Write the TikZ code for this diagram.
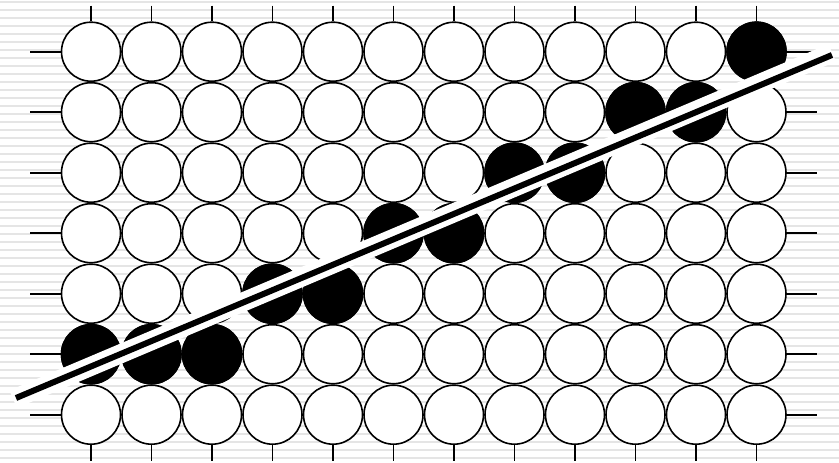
\documentclass[tikz,border=0pt]{standalone}
\usetikzlibrary{calc}
\begin{document}
\begin{tikzpicture}[x=1pt,y=-1pt,
  bead/.style={circle, draw=black, line width=1.6pt, minimum size=59pt, inner sep=0pt, fill=white},
  blackbead/.style={bead, fill=black},
  tickline/.style={draw=black, line width=1.6pt},
  stripe/.style={draw=gray!20, line width=2pt}]
\useasboundingbox (0,0) rectangle (839,463);
\foreach \y in {1.5,9.5,...,463} \draw[stripe] (0,\y) -- (839,\y);
% tick end points
\foreach \c in {1,...,12}{
  \pgfmathsetmacro{\cx}{91+60.5*(\c-1)}
  \coordinate (tt-\c) at (\cx,5.5);
  \coordinate (tb-\c) at (\cx,460.5);
}
\foreach \r in {1,...,7}{
  \pgfmathsetmacro{\cy}{51.7+60.5*(\r-1)}
  \coordinate (tl-\r) at (30,\cy);
  \coordinate (tr-\r) at (817,\cy);
}
% beads
\foreach \r in {1,...,7}{
  \foreach \c in {1,...,12}{
    \pgfmathsetmacro{\cx}{91+60.5*(\c-1)}
    \pgfmathsetmacro{\cy}{51.7+60.5*(\r-1)}
    \node[bead] (b-\r-\c) at (\cx,\cy) {};
  }
}
\foreach \c in {1,...,12}{
  \draw[tickline] (tt-\c) -- (b-1-\c.north);
  \draw[tickline] (b-7-\c.south) -- (tb-\c);
}
\foreach \r in {1,...,7}{
  \draw[tickline] (tl-\r) -- (b-\r-1.west);
  \draw[tickline] (b-\r-12.east) -- (tr-\r);
}
% black beads
\foreach \r/\c in {1/12, 2/10, 2/11, 3/8, 3/9, 4/6, 4/7, 5/4, 5/5, 6/1, 6/2, 6/3}{
  \node[blackbead] at (b-\r-\c) {};
}
% separating line with white halo
\coordinate (la) at (13.2,399.2);
\coordinate (lb) at (832.2,52.8);
\coordinate (ka) at (16,398);
\coordinate (kb) at (832,55);
\draw[white, line width=19pt] (la) -- (lb);
\draw[black, line width=6pt] (ka) -- (kb);
\end{tikzpicture}
\end{document}
